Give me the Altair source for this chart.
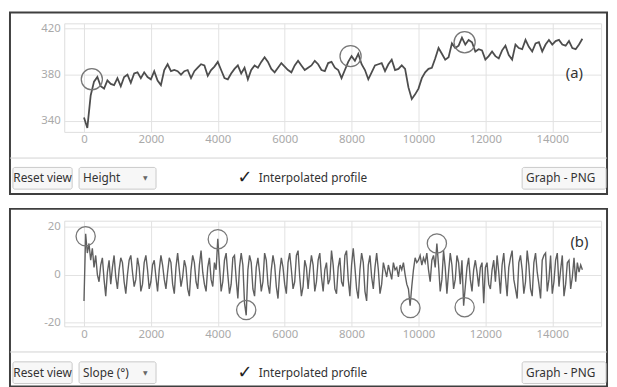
import altair as alt
import pandas as pd

# ---------------- data ----------------
# Panel (a): height profile (m), sampled every 100 m of distance
height_m = [
    343, 334, 362, 374, 378, 370, 368, 375, 372, 371,
    377, 370, 378, 380, 373, 381, 382, 377, 382, 378,
    376, 383, 375, 371, 384, 389, 383, 384, 383, 380,
    383, 384, 377, 383, 386, 389, 388, 379, 384, 387,
    391, 384, 377, 376, 381, 385, 388, 381, 386, 376,
    384, 388, 386, 391, 395, 391, 385, 382, 386, 390,
    387, 384, 382, 388, 392, 388, 384, 386, 388, 392,
    389, 384, 383, 390, 391, 386, 384, 377, 384, 391,
    396, 392, 398, 389, 384, 376, 382, 388, 389, 390,
    383, 389, 393, 384, 385, 388, 385, 369, 359, 363,
    368, 377, 382, 385, 386, 394, 403, 398, 393, 395,
    407, 403, 405, 412, 406, 410, 408, 400, 402, 401,
    393, 396, 400, 396, 394, 401, 405, 397, 393, 406,
    403, 402, 410, 404, 400, 407, 408, 400, 406, 410,
    406, 409, 410, 406, 405, 409, 403, 402, 406, 411,
]
dist_a = [i * 100 for i in range(len(height_m))]

# Panel (b): slope profile (degrees), sampled every 50 m of distance
slope_deg = [
    -11, 17, 9, 13, 6, 11, 3, 8, 0, -3, 4, 7, -2, -9, 1, 6, -4, 3, 8, -1,
    -6, 2, 7, 5, -3, -8, 0, 6, 8, 1, -5, -2, 7, 3, -7, -4, 5, 8, 2, -6,
    -3, 4, 6, -1, -7, 2, 8, 4, -2, -6, 1, 7, 5, -4, -8, 3, 9, 2, -5, -1,
    6, 3, -6, -9, 2, 8, 5, -3, -6, 4, 10, 1, -4, -7, 3, 7, -2, -5, 5, 2,
    15, 4, -7, -3, 6, 9, 0, -8, -4, 7, 8, -2, -10, 3, 9, 4, -12, -17, 2, 8,
    5, -6, -9, 3, 7, 1, -7, -3, 9, 6, -4, -8, 2, 8, 4, -5, -10, 1, 7, 3,
    -4, -8, 5, 9, 2, -6, -3, 8, 10, -1, -9, -5, 6, 3, -6, 2, 8, 4, -7, -3,
    6, 9, -1, -7, 2, 5, -4, -2, 10, 4, -6, -8, 3, 7, -3, -5, 8, 10, -2, -9,
    4, 11, 3, -6, -10, 2, 9, 5, -7, -11, 4, 8, -1, -6, 3, 9, 2, -8, -4, 5,
    2, -1, 4, 1, -2, 5, 2, 3, -1, 4, 2, 5, 0, -4, -6, -13, -5, 2, 7, 5,
    6, 8, 4, 7, 5, 9, 2, -3, 6, 8, 3, 13, 4, -7, -2, 10, 3, -8, 1, 9,
    4, -6, -2, 8, 5, -4, 6, -13, -5, 3, 7, -2, -7, 2, 6, 1, -5, 3, 5, -12,
    3, 5, -4, -6, 2, 6, -3, 8, 1, -8, 4, 9, -1, -9, 3, 7, 10, -2, -6, -10,
    5, 8, 2, -8, -3, 10, 4, -6, -9, 5, 9, 1, -4, -10, 6, 8, 9, -7, -2, 8,
    -8, -3, 6, 9, -5, 2, 8, -9, -4, 5, 6, -6, -1, 7, -3, 5, 1, 4, 2,
]
dist_b = [i * 50 for i in range(len(slope_deg))]

# circled spots
circ_a_d = [235, 7970, 11380]
circ_a_v = [376, 396, 408]
circ_b_d = [50, 4000, 4850, 9760, 10550, 11380]
circ_b_v = [16, 14.8, -14.8, -14, 13, -13.6]

# axes
x_ticks = [0, 2000, 4000, 6000, 8000, 10000, 12000, 14000]
y_grid_a = [340, 350, 360, 370, 380, 390, 400, 410, 420]
y_grid_b = [-20, -10, 0, 10, 20]

x_domain = [-590, 15460]
y_domain_a = [330.6, 424.3]
y_domain_b = [-21.6, 22.5]

W = 544
H_A = 110
H_B = 107

UI_FONT = "Noto Sans"

df_a = pd.DataFrame({"d": dist_a, "v": height_m})
df_b = pd.DataFrame({"d": dist_b, "v": slope_deg})
ca = pd.DataFrame({"d": circ_a_d, "v": circ_a_v})
cb = pd.DataFrame({"d": circ_b_d, "v": circ_b_v})

one = pd.DataFrame({"k": [0]})


def box(x1, x2, y1, y2, **kw):
    return alt.Chart(one).mark_rect(**kw).encode(
        x=alt.value(x1), x2=alt.value(x2), y=alt.value(y1), y2=alt.value(y2))


def label(txt, x, y, **kw):
    return alt.Chart(one).mark_text(text=txt, **kw).encode(
        x=alt.value(x), y=alt.value(y))


def hline(x1, x2, y, **kw):
    return alt.Chart(one).mark_rule(**kw).encode(
        x=alt.value(x1), x2=alt.value(x2), y=alt.value(y))


def panel(df, circ, ydom, ygrid, h, menu, tag, tag_x, tag_y,
          frame_top, frame_bot, sep_y, btn_top, btn_bot, line_color, lw, csize):
    x_axis = alt.Axis(values=x_ticks, grid=True, gridColor="#e2e2e2", domain=False,
                      ticks=False, tickSize=0, labelColor="#a9a9a9", labelFont="Noto Sans",
                      labelFontSize=11.5, labelPadding=2, title=None,
                      labelExpr="'' + datum.value")
    y_axis = alt.Axis(values=ygrid, grid=True, gridColor="#e2e2e2", domain=False,
                      ticks=False, tickSize=0, labelColor="#a9a9a9", labelFont="Noto Sans",
                      labelFontSize=11.5, labelPadding=4, title=None,
                      labelExpr="datum.value % 20 == 0 ? '' + datum.value : ''")
    line = alt.Chart(df).mark_line(color=line_color, strokeWidth=lw).encode(
        x=alt.X("d:Q", scale=alt.Scale(domain=x_domain, nice=False, zero=False), axis=x_axis),
        y=alt.Y("v:Q", scale=alt.Scale(domain=ydom, nice=False, zero=False), axis=y_axis),
    )
    rings = alt.Chart(circ).mark_point(shape="circle", filled=False, size=csize,
                                       color="#777777", strokeWidth=1.3, opacity=1).encode(
        x="d:Q", y="v:Q")
    ty = (btn_top + btn_bot) / 2
    chrome = [
        box(-55, 550, frame_top, frame_bot, fill="transparent", stroke="#3f3f3f", strokeWidth=2),
        hline(-55, 550, sep_y, color="#d2d2d2", strokeWidth=1),
        box(-52, 8, btn_top, btn_bot, fill="#f7f7f7", stroke="#c9c9c9", strokeWidth=1, cornerRadius=2),
        box(15, 93, btn_top, btn_bot, fill="#f7f7f7", stroke="#c9c9c9", strokeWidth=1, cornerRadius=2),
        box(464, 549, btn_top, btn_bot, fill="#f7f7f7", stroke="#c9c9c9", strokeWidth=1, cornerRadius=2),
    ]
    texts = [
        label("Reset view", -22, ty, align="center", baseline="middle", font=UI_FONT,
              fontSize=12, color="#333333"),
        label(menu, 19, ty, align="left", baseline="middle", font=UI_FONT,
              fontSize=12, color="#333333"),
        label("\u25BC", 82, ty, align="center", baseline="middle", font="DejaVu Sans",
              fontSize=6, color="#666666"),
        label("\u2713", 183, ty, align="center", baseline="middle", font="DejaVu Sans",
              fontSize=18, color="#222222", fontWeight="bold"),
        label("Interpolated profile", 197, ty, align="left", baseline="middle", font=UI_FONT,
              fontSize=12, color="#333333"),
        label("Graph - PNG", 468, ty, align="left", baseline="middle", font=UI_FONT,
              fontSize=12, color="#333333"),
        label(tag, tag_x, tag_y, align="center", baseline="middle", font=UI_FONT,
              fontSize=15, color="#333333"),
    ]
    return alt.layer(*chrome, line, rings, *texts).properties(width=W, height=h)


pa = panel(df_a, ca, y_domain_a, y_grid_a, H_A, "Height", "(a)", 517, 50,
           -11, 173, 136.5, 146, 168, "#4d4d4d", 1.8, 460)
pb = panel(df_b, cb, y_domain_b, y_grid_b, H_B, "Slope (\u00b0)", "(b)", 522, 22,
           -12, 168, 133, 143, 165, "#5f5f5f", 1.4, 380)

chart = alt.vconcat(pa, pb, spacing=90, bounds="flush").properties(
    padding={"left": 0, "top": 0, "right": 0, "bottom": 0}
).configure_view(stroke="#8c8c8c", strokeWidth=1.6).configure(background="white")

chart.save("out.html", embed_options={"renderer": "svg", "actions": False})
